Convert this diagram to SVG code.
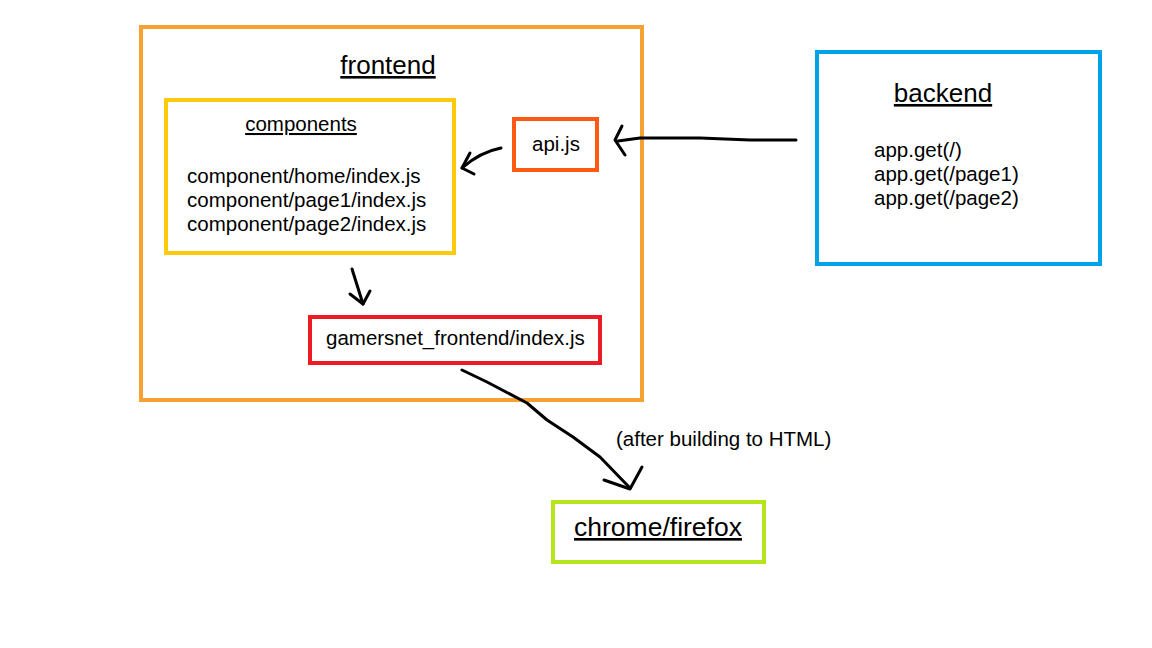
<svg xmlns="http://www.w3.org/2000/svg" width="1152" height="648" viewBox="0 0 1152 648">
<style>
.box{fill:none;stroke-width:4}
.t{font-family:"Liberation Sans",Arial,sans-serif;fill:#000}
.s{font-size:20.5px}
.h{font-size:26px;text-decoration:underline}
.c{stroke:#000;stroke-width:3;fill:none;stroke-linecap:round;stroke-linejoin:round}
</style>
<rect width="1152" height="648" fill="#fff"/>
<g id="frontend">
<rect class="box" x="141" y="27" width="501" height="373" stroke="#F5A233"/>
<text class="t h" x="388" y="74" text-anchor="middle">frontend</text>
</g>
<g id="components">
<rect class="box" x="166" y="100" width="288" height="153" stroke="#FFC90E"/>
<text class="t s" x="301" y="131" text-anchor="middle" style="text-decoration:underline">components</text>
<text class="t s" x="187" y="183">component/home/index.js</text>
<text class="t s" x="187" y="207">component/page1/index.js</text>
<text class="t s" x="187" y="231">component/page2/index.js</text>
</g>
<g id="api">
<rect class="box" x="514" y="119" width="83" height="51" stroke="#FF5A14"/>
<text class="t s" x="556" y="151" text-anchor="middle">api.js</text>
</g>
<g id="backend">
<rect class="box" x="817" y="52" width="283" height="212" stroke="#00A2E8"/>
<text class="t h" x="943" y="102" text-anchor="middle">backend</text>
<text class="t s" x="874" y="157">app.get(/)</text>
<text class="t s" x="874" y="181">app.get(/page1)</text>
<text class="t s" x="874" y="205">app.get(/page2)</text>
</g>
<g id="gamersnet">
<rect class="box" x="310" y="317" width="290" height="46" stroke="#ED1C24"/>
<text class="t s" x="326" y="345">gamersnet_frontend/index.js</text>
</g>
<g id="browser">
<rect class="box" x="553" y="502" width="211" height="60" stroke="#B5E61D"/>
<text class="t" x="658" y="536" text-anchor="middle" style="font-size:26.5px;text-decoration:underline">chrome/firefox</text>
</g>
<text class="t s" x="616" y="446">(after building to HTML)</text>
<g id="connectors">
<path class="c" d="M796,140 L750,140 L700,138 L640,138 L618,141"/>
<path class="c" d="M622,126 L615,140 L625,155"/>
<path class="c" d="M501,148 Q480,152 462,168"/>
<path class="c" d="M470,153 L462,168 L474,174"/>
<path class="c" d="M352,269 Q357,285 363,304"/>
<path class="c" d="M350,294 L363,304 L370,291"/>
<path class="c" d="M462,370 L487,382 L527,403 L547,420 L573,437 L600,457 L630,488"/>
<path class="c" d="M604,480 L630,489 L642,467"/>
</g>
</svg>
